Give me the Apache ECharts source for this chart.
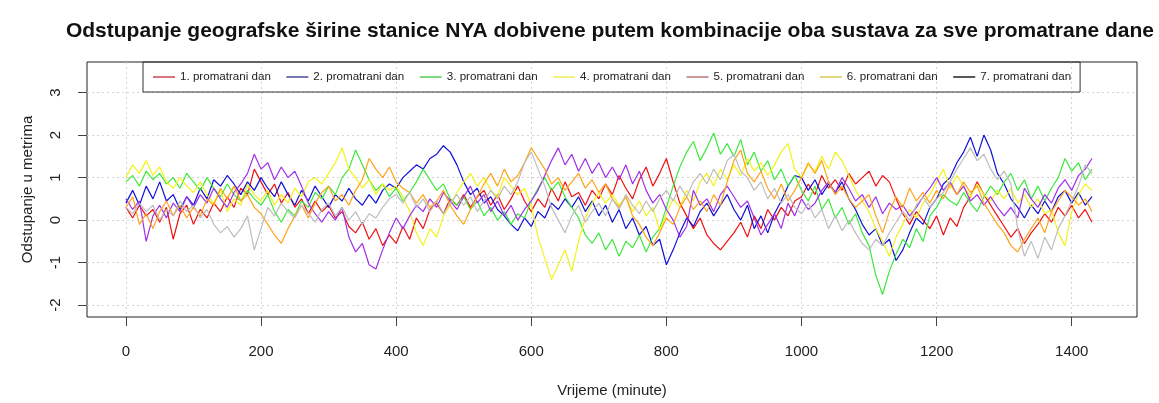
<!DOCTYPE html>
<html>
<head>
<meta charset="utf-8">
<script src="https://cdn.jsdelivr.net/npm/echarts@6/dist/echarts.min.js"></script>
<style>
html,body{margin:0;padding:0;background:#fff;}
#chart{width:1159px;height:403px;}
</style>
</head>
<body>
<div id="chart"></div>
<script>
// Sampling step of the time axis (minutes) – values read every 10 minutes
const STEP = 10;
const seriesNames = ["1. promatrani dan","2. promatrani dan","3. promatrani dan","4. promatrani dan","5. promatrani dan","6. promatrani dan","7. promatrani dan"];
const xTicks = [0,200,400,600,800,1000,1200,1400];
const yTicks = [-2,-1,0,1,2,3];

const day1 = [0.3,0.05,0.35,0.1,0.25,-0.05,0.3,-0.45,0.15,0.35,
-0.1,0.25,0.05,0.4,0.2,0.55,0.3,0.75,0.6,1.2,
0.9,0.6,0.85,0.4,0.65,0.3,0.5,0.15,0.45,0.2,
0.35,0.05,0.2,-0.15,-0.3,-0.05,-0.45,-0.2,-0.6,-0.35,
-0.55,-0.15,-0.45,0.05,-0.2,0.25,0.4,0.15,0.5,0.35,
0.6,0.3,0.55,0.7,0.35,0.6,0.25,0.5,0.8,0.45,
0.2,0.5,0.3,0.75,0.45,0.9,0.55,0.65,0.35,0.7,
0.5,0.85,0.6,1.05,0.75,0.5,0.95,1.25,0.8,1.1,
1.45,0.9,0.4,0.1,-0.2,0.05,-0.35,-0.55,-0.7,-0.5,
-0.3,-0.05,-0.4,0.1,-0.2,0.25,0.0,0.3,0.1,0.45,
0.55,0.85,0.6,1.05,0.75,0.95,0.7,1.1,0.85,1.0,
1.15,0.8,1.05,0.9,0.5,0.15,-0.1,0.2,0.0,-0.2,
0.1,-0.35,0.05,-0.15,0.3,0.55,0.9,0.6,0.35,0.1,
-0.15,-0.4,-0.2,-0.55,-0.3,-0.1,0.15,-0.05,0.3,0.1,
0.35,0.05,0.25,-0.05];

const day2 = [0.4,0.7,0.35,0.8,0.5,0.9,0.45,0.6,0.25,0.55,
0.35,0.75,0.5,0.95,0.8,1.05,0.85,0.6,0.9,0.7,
1.0,0.75,0.55,0.9,0.6,0.35,0.7,0.45,0.8,0.55,
0.3,0.6,0.45,0.75,0.5,0.35,0.6,0.4,0.7,0.85,
0.75,1.0,1.15,1.3,1.2,1.45,1.55,1.75,1.6,1.3,
0.9,0.6,0.75,0.4,0.55,0.25,0.1,-0.1,-0.25,0.05,
-0.15,0.2,0.05,0.4,0.25,0.5,0.3,0.55,0.2,0.45,
0.1,0.35,-0.05,0.25,-0.2,0.05,-0.35,-0.15,-0.6,-0.45,
-1.05,-0.7,-0.3,0.05,-0.15,0.2,0.4,0.1,0.35,0.6,
0.25,0.0,0.35,-0.2,0.1,-0.3,0.15,0.45,0.8,1.05,
1.0,0.7,0.95,0.6,0.85,0.65,0.9,0.5,0.25,-0.1,
-0.35,-0.2,-0.6,-0.45,-0.95,-0.7,-0.3,0.05,-0.1,0.3,
0.5,0.85,1.0,1.35,1.6,1.95,1.5,2.0,1.65,1.1,
0.85,0.5,0.3,0.05,0.35,0.15,0.45,0.2,0.55,0.7,
0.4,0.65,0.35,0.55];

const day3 = [0.9,1.05,0.8,1.15,0.95,1.1,0.85,1.0,0.75,1.1,
0.9,0.7,1.0,0.75,0.55,0.85,0.6,0.45,0.7,0.5,
0.35,0.6,0.2,-0.05,0.25,0.1,0.45,0.3,0.65,0.5,
0.8,0.6,1.0,1.2,1.65,1.3,0.95,0.7,0.85,0.55,
0.75,0.45,0.65,0.9,1.2,0.95,0.7,0.85,0.5,0.35,
0.55,0.25,0.45,0.1,0.3,0.0,0.2,-0.1,0.15,0.05,
0.45,0.75,1.0,0.7,0.9,0.55,0.3,0.05,-0.35,-0.55,
-0.3,-0.7,-0.45,-0.85,-0.5,-0.65,-0.35,-0.75,-0.4,-0.2,
0.3,0.8,1.25,1.6,1.85,1.4,1.7,2.05,1.55,1.8,
1.5,1.9,1.3,1.6,1.15,1.4,0.95,1.2,0.8,1.05,
0.7,0.45,0.8,0.25,0.5,0.05,0.3,-0.1,0.15,-0.3,
-0.6,-1.3,-1.75,-1.2,-0.8,-0.45,-0.65,-0.2,-0.5,0.1,
0.3,0.6,0.45,0.35,0.65,0.4,0.2,0.55,0.8,0.6,
0.9,1.1,0.7,0.95,0.5,0.8,0.45,0.75,1.0,1.45,
1.15,1.35,0.95,1.2];

const day4 = [1.0,1.3,1.1,1.4,1.05,1.25,0.9,0.75,1.0,0.8,
0.65,0.9,0.6,0.4,0.7,0.2,0.5,0.35,0.85,0.6,
0.45,0.7,0.35,0.6,0.4,0.75,0.55,0.9,1.0,0.85,
1.1,1.35,1.7,1.2,1.0,0.75,0.95,0.6,0.85,0.7,
0.8,0.55,0.2,-0.3,-0.6,-0.2,-0.4,0.1,0.35,0.65,
0.9,1.1,0.8,1.0,0.7,0.55,1.0,0.8,0.6,0.75,
0.35,-0.4,-0.9,-1.4,-1.05,-0.7,-1.2,-0.5,0.05,0.4,
0.65,0.4,0.6,0.35,0.55,0.2,0.45,0.1,0.3,-0.25,
0.15,0.5,0.3,0.7,0.45,0.9,1.1,0.8,1.2,0.95,
1.3,1.05,1.45,1.15,1.35,1.05,1.3,1.6,1.8,1.2,
1.0,1.3,1.15,1.5,1.2,1.6,1.4,1.05,0.7,0.45,
0.2,-0.2,-0.5,-0.85,-0.4,-0.1,0.25,0.05,0.4,0.6,
0.9,1.2,0.75,1.05,0.8,0.55,0.85,0.6,0.45,0.7,
0.5,0.75,0.4,0.6,0.3,0.5,0.15,0.25,-0.3,-0.6,
0.2,0.6,0.85,0.7];

const day5 = [0.5,0.25,0.45,-0.5,0.1,0.35,0.05,0.4,0.2,0.55,
0.3,0.6,0.4,0.75,0.5,0.3,0.65,0.85,1.1,1.55,
1.2,1.35,0.95,1.25,1.0,1.15,0.8,0.4,0.15,-0.05,
0.2,0.0,0.3,-0.4,-0.75,-0.55,-1.05,-1.15,-0.7,-0.3,
0.05,-0.2,0.1,0.35,0.2,0.5,0.3,0.65,0.45,0.25,
0.55,0.8,0.4,0.6,0.2,0.45,0.1,0.35,0.0,0.25,
0.45,0.7,1.05,1.4,1.7,1.3,1.55,1.15,1.45,1.1,
1.35,1.0,1.25,0.95,1.3,0.85,1.15,0.7,0.4,0.6,
0.25,0.0,-0.4,-0.15,0.7,0.35,0.5,0.2,0.6,0.8,
0.55,0.3,0.45,0.05,-0.35,-0.1,0.15,-0.2,0.4,0.1,
0.5,0.25,0.4,0.7,0.9,0.65,1.0,0.75,0.45,0.6,
0.3,0.55,0.15,0.4,0.25,0.35,0.1,0.3,0.55,0.75,
1.0,0.7,0.9,0.6,0.8,0.45,0.6,0.35,0.55,0.3,
0.1,0.3,0.05,0.75,0.5,0.3,0.6,0.4,0.75,0.95,
0.7,1.05,1.2,1.45];

const day6 = [0.3,0.55,-0.1,0.15,-0.2,0.2,0.45,0.1,0.35,0.05,
0.3,0.1,0.5,0.35,0.75,0.5,0.8,0.45,0.6,0.3,
0.15,-0.1,-0.35,-0.55,-0.2,0.1,0.35,0.05,0.4,0.65,
0.8,0.45,0.6,0.35,0.7,0.95,1.45,1.2,1.0,1.25,
0.9,0.75,0.65,0.4,0.6,0.3,0.45,0.7,0.35,0.1,
-0.1,0.25,0.55,0.85,1.1,0.8,1.2,0.9,1.05,1.35,
1.7,1.45,1.2,0.85,1.0,0.7,0.9,1.1,0.75,0.95,
0.65,0.85,0.5,0.3,0.55,0.1,-0.1,-0.4,-0.6,-0.3,
0.05,-0.1,0.3,0.55,0.25,0.45,0.2,0.6,0.35,0.9,
1.4,1.65,1.1,0.9,1.15,0.75,0.5,0.85,0.45,0.7,
1.0,1.35,1.1,1.4,0.9,0.6,0.8,0.5,0.3,0.45,
0.6,0.1,-0.3,0.2,0.55,0.3,0.75,0.45,0.65,0.4,
0.7,0.5,0.85,0.6,0.9,0.65,0.8,0.4,0.15,-0.1,
-0.3,-0.6,-0.75,-0.45,-0.2,0.05,-0.3,0.2,0.45,0.7,
0.55,0.35,0.5,0.2];

const day7 = [0.3,0.15,0.4,0.2,0.35,0.0,0.25,0.1,0.45,0.2,
0.35,0.05,0.25,-0.1,-0.3,-0.15,-0.4,-0.2,0.1,-0.7,
-0.2,0.3,0.1,0.4,0.2,0.05,0.35,0.15,-0.05,0.25,
0.4,0.1,0.3,0.0,0.2,-0.1,0.15,0.05,0.3,0.5,
0.6,0.4,0.65,0.3,0.5,0.2,0.45,0.15,0.4,0.6,
0.35,0.55,0.2,0.45,0.7,0.5,0.8,0.6,0.9,1.35,
1.6,1.2,0.8,0.3,0.0,-0.3,0.1,0.35,-0.05,0.2,
0.4,0.1,0.5,0.25,0.6,0.35,0.15,0.45,0.2,0.5,
0.7,0.45,0.8,0.55,0.9,1.1,0.85,1.2,0.95,1.4,
1.55,1.15,1.0,0.7,0.9,0.5,0.75,0.4,0.6,0.3,
0.15,0.4,0.05,0.25,-0.2,0.1,-0.25,0.0,-0.3,-0.55,
-0.7,-0.45,-0.6,-0.3,-0.05,0.2,0.0,0.35,0.55,0.3,
0.5,0.65,0.9,1.2,1.45,1.7,1.4,1.55,1.2,0.95,
1.15,0.85,-0.2,-0.85,-0.5,-0.9,-0.4,-0.7,-0.2,0.1,
0.45,0.8,1.3,1.1];

const allDays = [day1, day2, day3, day4, day5, day6, day7];
const lineColors = ["#ee1111","#1010d8","#3ee83e","#f2f21a","#a030e8","#ffa31a","#bdbdbd"];
const legendColors = ["#cc4455","#4a4a9a","#55cc55","#eeee55","#b87878","#d6c850","#222222"];

const chart = echarts.init(document.getElementById('chart'), null, {renderer:'canvas'});
const series = allDays.map((vals, i) => ({
  name: seriesNames[i],
  type: 'line',
  data: vals.map((v, k) => [k * STEP, v]),
  showSymbol: false,
  symbol: 'none',
  lineStyle: {width: 1.2, color: lineColors[i]},
  itemStyle: {color: lineColors[i]},
  animation: false,
  silent: true
}));

const option = {
  animation: false,
  backgroundColor: '#ffffff',
  title: {
    text: 'Odstupanje geografske širine stanice NYA dobivene putem kombinacije oba sustava za sve promatrane dane',
    left: 605, top: 16, textAlign: 'center',
    textStyle: {fontFamily: 'Liberation Sans', fontWeight: 'bold', fontSize: 21, color: '#111'}
  },
  legend: {
    left: 143, top: 62,
    orient: 'horizontal',
    icon: 'rect',
    itemWidth: 22, itemHeight: 1.5, itemGap: 15.5,
    padding: [9, 9, 9, 10],
    borderColor: '#333', borderWidth: 1,
    textStyle: {fontFamily: 'Liberation Sans', fontSize: 11.6, color: '#222'},
    data: seriesNames.map((n, i) => ({name: n, itemStyle: {color: legendColors[i]}, lineStyle: {color: legendColors[i]}}))
  },
  grid: {left: 87, right: 22, top: 62, bottom: 83, show: true, borderColor: '#222', borderWidth: 1, backgroundColor: 'transparent', containLabel: false},
  xAxis: {
    type: 'value', min: -57.6, max: 1496.6, splitNumber: 8,
    name: 'Vrijeme (minute)', nameLocation: 'middle', nameGap: 66,
    nameTextStyle: {fontFamily: 'Liberation Sans', fontSize: 15, color: '#222'},
    axisLine: {show: false, onZero: false},
    axisTick: {show: true, inside: false, length: 9, lineStyle: {color: '#444'}, customValues: xTicks},
    axisLabel: {fontFamily: 'Liberation Sans', fontSize: 15, color: '#222', margin: 27, customValues: xTicks,
      formatter: v => (xTicks.indexOf(v) >= 0 ? String(v) : '')},
    splitLine: {show: true, lineStyle: {color: '#d3d3d3', type: [2, 3], width: 1}}
  },
  yAxis: {
    type: 'value', min: -2.28, max: 3.72,
    name: 'Odstupanje u metrima', nameLocation: 'middle', nameGap: 52,
    nameTextStyle: {fontFamily: 'Liberation Sans', fontSize: 15, color: '#222'},
    axisLine: {show: false, onZero: false},
    axisTick: {show: true, inside: false, length: 9, lineStyle: {color: '#444'}, customValues: yTicks},
    axisLabel: {fontFamily: 'Liberation Sans', fontSize: 15, color: '#222', margin: 24, rotate: 90, customValues: yTicks,
      formatter: v => (yTicks.indexOf(v) >= 0 ? String(v) : '')},
    splitLine: {show: true, lineStyle: {color: '#d3d3d3', type: [2, 3], width: 1}}
  },
  series: series
};
chart.setOption(option);
</script>
</body>
</html>
